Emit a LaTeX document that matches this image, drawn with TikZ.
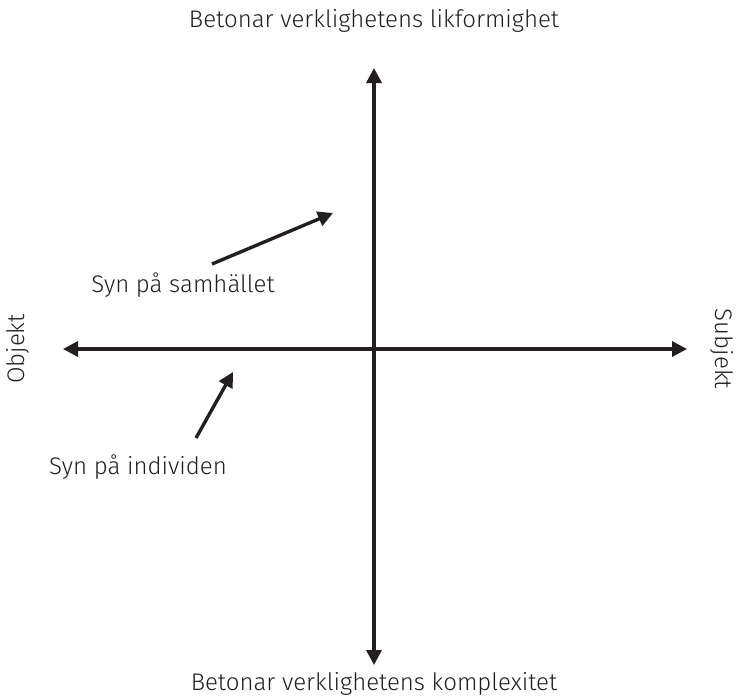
\documentclass[tikz,border=0pt]{standalone}
\usepackage{fontspec}
\setmainfont{Fira Sans Light}
\usetikzlibrary{arrows.meta}
\definecolor{ink}{HTML}{231F20}

\begin{document}
\begin{tikzpicture}[x=0.5pt, y=-0.5pt,
    axis/.style={draw=ink, line width=1.7pt, {Triangle[length=7.5pt,width=7.5pt]}-{Triangle[length=7.5pt,width=7.5pt]}},
    pointer/.style={draw=ink, line width=1.7pt, -{Triangle[length=7.5pt,width=7.5pt]}},
    every node/.style={text=ink, font=\fontsize{12}{14}\selectfont, inner sep=0pt}]
        \useasboundingbox (0,0) rectangle (741,697);

        % Axis end points
        \coordinate (top) at (374,68);
        \coordinate (bottom) at (374,665);
        \coordinate (left) at (63,349);
        \coordinate (right) at (687,349);

        % Axis labels
        \node (likformighet) at (374,21) {Betonar verklighetens likformighet};
        \node (komplexitet) at (374,684) {Betonar verklighetens komplexitet};
        \node[rotate=90] (objekt) at (18,349) {Objekt};
        \node[rotate=-90] (subjekt) at (722,349) {Subjekt};

        % Pointer labels
        \node (samhallet) at (183,285) {Syn på samhället};
        \node (individen) at (138,467) {Syn på individen};
        \coordinate (samtail) at (212,264);
        \coordinate (samtip) at (333,213);
        \coordinate (indtail) at (196,438);
        \coordinate (indtip) at (233,372);

        % Axes
        \draw[axis] (bottom) -- (top);
        \draw[axis] (left) -- (right);

        % Pointers
        \draw[pointer] (samtail) -- (samtip);
        \draw[pointer] (indtail) -- (indtip);
    \end{tikzpicture}
\end{document}
